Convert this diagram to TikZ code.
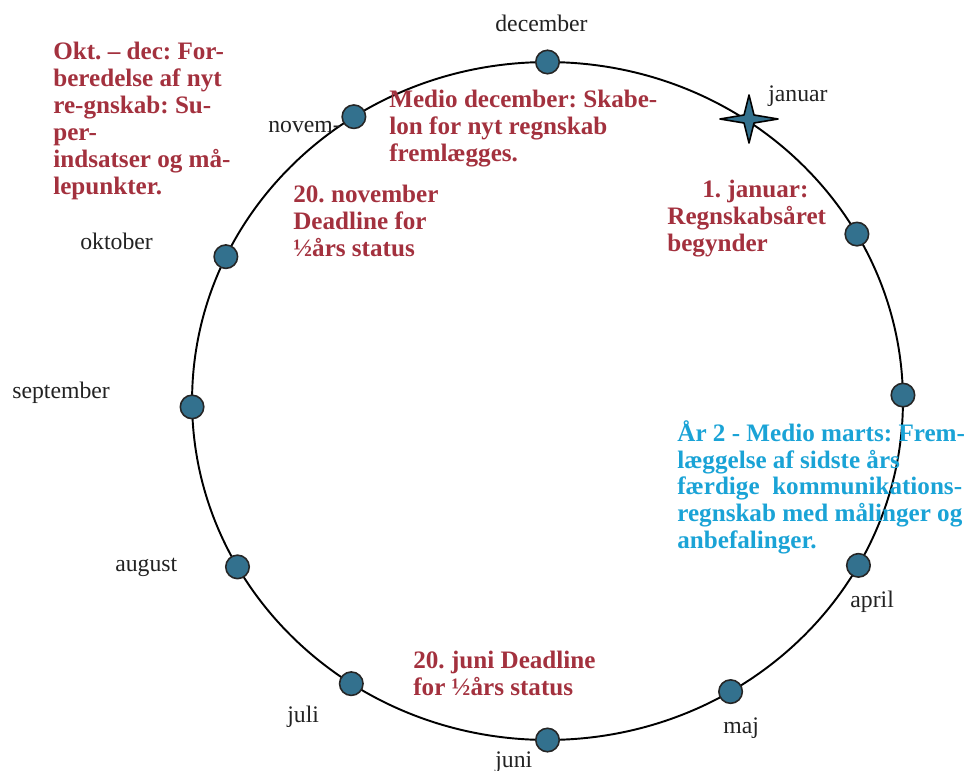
\documentclass[tikz,border=0pt]{standalone}
\usepackage{fontspec}
\setmainfont{Liberation Serif}
\frenchspacing
\definecolor{notered}{RGB}{163,49,62}
\definecolor{noteblue}{RGB}{26,163,214}
\definecolor{dotblue}{RGB}{51,113,142}
\definecolor{monthgray}{RGB}{34,34,34}
\tikzset{
	dot/.style = {circle, draw = black!85, line width = .9pt, fill = dotblue, minimum size = .47cm, inner sep = 0pt},
	month/.style = {font = \fontsize{13.5}{16}\selectfont, text = monthgray, inner sep = 0pt},
	note/.style = {font = \bfseries\fontsize{14.3}{15.3}\selectfont, text = notered, align = left, inner sep = 0pt, anchor = north west}
}
\begin{document}
\begin{tikzpicture}[x = .02cm, y = -.02cm]
	\useasboundingbox (0,0) rectangle (969,770);
	\draw[line width = 1.1pt] (547.5,401) ellipse [x radius = 7.11cm, y radius = 6.78cm]; %year wheel
	\foreach \n/\t in {dec/90, feb/29.5, mar/1, apr/-29, maj/-59, jun/-90, jul/-123.5, aug/-150.7, sep/181, okt/154.8, nov/123}
		\node[dot] (\n) at ({547.5+355.5*cos(\t)},{401-339*sin(\t)}) {};
	\coordinate (jan) at (749,119); %star
	\draw[fill = dotblue, line width = .9pt, line join = round] (jan) ++(-29,0) -- ++(24,-4) -- ++(5,-20) -- ++(5,20) -- ++(24,4) -- ++(-24,4) -- ++(-5,20) -- ++(-5,-20) -- cycle;
	% months
	\node[month, anchor = base west] (ldec) at (495,32) {december};
	\node[month, anchor = base west] (ljan) at (768,102) {januar};
	\node[month, anchor = base west] (lapr) at (850,607) {april};
	\node[month, anchor = base west] (lmaj) at (723,733) {maj};
	\node[month, anchor = base west] (ljun) at (495,767) {juni};
	\node[month, anchor = base west] (ljul) at (287,722) {juli};
	\node[month, anchor = base west] (laug) at (115,571) {august};
	\node[month, anchor = base west] (lsep) at (12,398) {september};
	\node[month, anchor = base west] (lokt) at (80,249) {oktober};
	\node[month, anchor = base west] (lnov) at (268,133) {novem-};
	% notes
	\node[note] (okt-dec) at (53,42) {Okt. – dec: For-\\beredelse af nyt\\re-gnskab: Su-\\per-\\indsatser og må-\\lepunkter.};
	\node[note] (medio-dec) at (389,90) {Medio december: Skabe-\\lon for nyt regnskab\\fremlægges.};
	\node[note] (first-jan) at (667,180) {\hspace*{.7cm}1. januar:\\Regnskabsåret\\begynder};
	\node[note] (nov-dl) at (293,185) {20. november\\Deadline for\\½års status};
	\node[note, text = noteblue] (marts) at (677,420) {År 2 - Medio marts: Frem-\\læggelse af sidste års\\færdige\ \ kommunikations-\\regnskab med målinger og\\anbefalinger.};
	\node[note] (jun-dl) at (413,651) {20. juni Deadline\\for ½års status};
\end{tikzpicture}
\end{document}
